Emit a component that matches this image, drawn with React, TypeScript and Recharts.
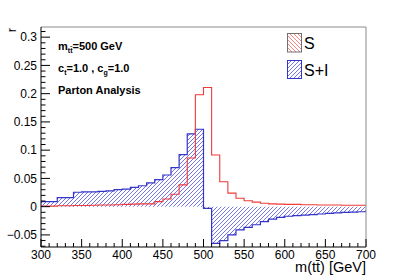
import React from 'react';
import { ComposedChart, Area, Line, XAxis, YAxis } from 'recharts';

// lower edges of the 10 GeV bins
const binLow = [
  300, 310, 320, 330, 340, 350, 360, 370, 380, 390,
  400, 410, 420, 430, 440, 450, 460, 470, 480, 490,
  500, 510, 520, 530, 540, 550, 560, 570, 580, 590,
  600, 610, 620, 630, 640, 650, 660, 670, 680, 690,
];
const binHigh = 700;

// signal only
const sVals = [
  0.001, 0.001, 0.0015, 0.0015, 0.002, 0.002, 0.0025, 0.003, 0.003, 0.0035,
  0.004, 0.0045, 0.005, 0.005, 0.009, 0.0135, 0.022, 0.0385, 0.086, 0.198,
  0.211, 0.0915, 0.044, 0.024, 0.015, 0.0105, 0.008, 0.006, 0.005, 0.0045,
  0.004, 0.004, 0.0035, 0.0035, 0.003, 0.003, 0.003, 0.0025, 0.0025, 0.0025,
];

// signal + interference
const siVals = [
  0.009, 0.009, 0.016, 0.016, 0.0255, 0.026, 0.026, 0.027, 0.028, 0.030,
  0.031, 0.034, 0.037, 0.042, 0.048, 0.056, 0.069, 0.092, 0.129, 0.137,
  -0.003, -0.065, -0.060, -0.050, -0.041, -0.0365, -0.032, -0.0265, -0.022, -0.019,
  -0.017, -0.016, -0.015, -0.014, -0.013, -0.012, -0.011, -0.010, -0.0095, -0.009,
];

const xMajor = [300, 350, 400, 450, 500, 550, 600, 650, 700];
const yMajor = [-0.05, 0, 0.05, 0.1, 0.15, 0.2, 0.25, 0.3];
const yLabels = ['\u22120.05', '0', '0.05', '0.1', '0.15', '0.2', '0.25', '0.3'];

const xMinor: number[] = [];
for (let v = 300; v <= 700; v += 10) xMinor.push(v);
const yMinor: number[] = [];
for (let i = -7; i <= 31; i++) yMinor.push(i / 100);

const data = binLow.map((x, i) => ({ x, s: sVals[i], si: siVals[i] }));
data.push({ x: binHigh, s: sVals[sVals.length - 1], si: siVals[siVals.length - 1] });

const FONT = '"Liberation Sans", Arial, Helvetica, sans-serif';
const RED = '#f03a3a';
const BLUE = '#3434c8';
const HATCH_BLUE = '#7474ee';

// 4x4 tile, one pixel per row, "/" direction
const hatchPixels = [[3, 0], [2, 1], [1, 2], [0, 3]];
const hatchPixelsBack = [[0, 0], [1, 1], [2, 2], [3, 3]];

const YTick = (props: any) => {
  const { x, y, payload } = props;
  const i = yMajor.findIndex(m => Math.abs(m - payload.value) < 1e-6);
  const ax = x + 4;
  return (
    <g>
      <line x1={ax} x2={ax + (i >= 0 ? 9 : 4.5)} y1={y} y2={y} stroke="#000" strokeWidth={1} />
      {i >= 0 && (
        <text x={x} y={y} dy="0.36em" textAnchor="end" fontSize={12} fontFamily={FONT} fill="#000">
          {yLabels[i]}
        </text>
      )}
    </g>
  );
};

const XTick = (props: any) => {
  const { x, y, payload } = props;
  const major = xMajor.includes(payload.value);
  const ay = y - 3.5;
  return (
    <g>
      <line x1={x} x2={x} y1={ay} y2={ay - (major ? 8 : 4)} stroke="#000" strokeWidth={1} />
      {major && (
        <text x={x} y={y} dy="0.71em" textAnchor="middle" fontSize={12} fontFamily={FONT} fill="#000">
          {payload.value}
        </text>
      )}
    </g>
  );
};

export default function App() {
  return (
    <div style={{ position: 'absolute', left: 0, top: 0, width: 407, height: 276, background: '#fff' }}>
      <ComposedChart width={407} height={276} data={data} margin={{ top: 26, right: 40, bottom: 28, left: 40 }}>
        <defs>
          <pattern id="siHatch" patternUnits="userSpaceOnUse" x={0} y={0} width={4} height={4}>
            {hatchPixels.map(([px, py]) => (
              <rect key={`${px}-${py}`} x={px} y={py} width={1} height={1} fill={HATCH_BLUE} />
            ))}
          </pattern>
        </defs>
        <XAxis
          dataKey="x"
          type="number"
          domain={[300, 700]}
          ticks={xMinor}
          interval={0}
          tick={<XTick />}
          tickLine={false}
          tickSize={0}
          tickMargin={3.5}
          height={1}
          axisLine={{ stroke: '#000' }}
          allowDataOverflow
        />
        <XAxis
          xAxisId="top"
          orientation="top"
          type="number"
          domain={[300, 700]}
          tick={false}
          tickLine={false}
          height={1}
          axisLine={{ stroke: '#8a8a8a' }}
        />
        <YAxis
          type="number"
          domain={[-0.0714, 0.318]}
          ticks={yMinor}
          interval={0}
          tick={<YTick />}
          tickLine={false}
          tickSize={0}
          tickMargin={4}
          width={1}
          axisLine={{ stroke: '#000' }}
          allowDataOverflow
        />
        <YAxis
          yAxisId="right"
          orientation="right"
          type="number"
          tick={false}
          tickLine={false}
          width={1}
          axisLine={{ stroke: '#8a8a8a' }}
        />
        <Area
          dataKey="si"
          type="stepAfter"
          stroke={BLUE}
          strokeWidth={1.2}
          fill="url(#siHatch)"
          fillOpacity={1}
          baseValue={0}
          isAnimationActive={false}
        />
        <Line
          dataKey="s"
          type="stepAfter"
          stroke={RED}
          strokeWidth={1.1}
          dot={false}
          isAnimationActive={false}
        />
      </ComposedChart>
      <svg
        width={407}
        height={276}
        style={{ position: 'absolute', left: 0, top: 0, pointerEvents: 'none' }}
      >
        <defs>
          <pattern id="legRed" patternUnits="userSpaceOnUse" width={4} height={4}>
            {hatchPixelsBack.map(([px, py]) => (
              <rect key={`${px}-${py}`} x={px} y={py} width={1} height={1} fill="#ff8585" />
            ))}
          </pattern>
          <pattern id="legBlue" patternUnits="userSpaceOnUse" width={4} height={4}>
            {hatchPixels.map(([px, py]) => (
              <rect key={`${px}-${py}`} x={px} y={py} width={1} height={1} fill={HATCH_BLUE} />
            ))}
          </pattern>
        </defs>
        <g fontFamily={FONT} fontWeight="bold" fontSize={11} fill="#000">
          <text x={58} y={50}>
            m<tspan fontSize={7} dy={2.5}>t{'t\u0304'}</tspan>
            <tspan dy={-2.5}>=500 GeV</tspan>
          </text>
          <text x={58} y={72}>
            c<tspan fontSize={7} dy={2.5}>t</tspan>
            <tspan dy={-2.5}>=1.0 , c</tspan>
            <tspan fontSize={7} dy={2.5}>g</tspan>
            <tspan dy={-2.5}>=1.0</tspan>
          </text>
          <text x={58} y={94.3}>Parton Analysis</text>
        </g>
        <rect x={287.5} y={33.5} width={14} height={18.5} fill="url(#legRed)" stroke="#707070" strokeWidth={1} />
        <text x={304} y={48.8} fontFamily={FONT} fontSize={16} fill="#000">S</text>
        <rect x={287.5} y={60.5} width={14} height={18} fill="url(#legBlue)" stroke={BLUE} strokeWidth={1} />
        <text x={304} y={76} fontFamily={FONT} fontSize={16} fill="#000">S+I</text>
        <text
          transform="rotate(-90)"
          x={-28}
          y={16}
          textAnchor="end"
          fontFamily={FONT}
          fontSize={13}
          fill="#000"
        >
          r
        </text>
        <text x={366} y={272} textAnchor="end" fontFamily={FONT} fontSize={14.5} fill="#000">
          m(t{'t\u0304'}) [GeV]
        </text>
      </svg>
    </div>
  );
}
